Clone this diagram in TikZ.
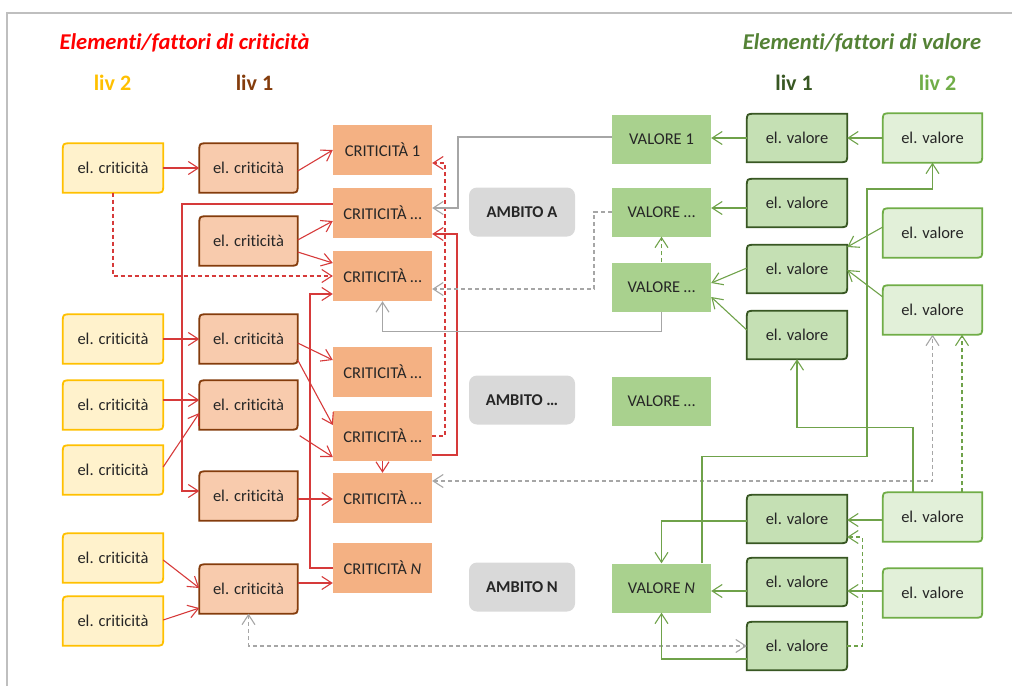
\documentclass[tikz,border=0pt]{standalone}
\usepackage{fontspec}
\setmainfont{Carlito}[Ligatures=NoCommon]
\usetikzlibrary{arrows.meta,backgrounds,calc}

\definecolor{yelfill}{HTML}{FFF2CC}
\definecolor{yelline}{HTML}{FFC000}
\definecolor{brnfill}{HTML}{F8CBAD}
\definecolor{brnline}{HTML}{843C0C}
\definecolor{critfill}{HTML}{F4B183}
\definecolor{ambfill}{HTML}{D9D9D9}
\definecolor{valfill}{HTML}{A9D18E}
\definecolor{dgrfill}{HTML}{C5E0B4}
\definecolor{dgrline}{HTML}{385723}
\definecolor{lgrfill}{HTML}{E2F0D9}
\definecolor{lgrline}{HTML}{70AD47}
\definecolor{redline}{HTML}{D63A3A}
\definecolor{grayline}{HTML}{A6A6A6}
\definecolor{greenline}{HTML}{6FA24A}
\definecolor{titlegreen}{HTML}{548235}
\definecolor{textdark}{HTML}{262626}
\definecolor{framecol}{HTML}{BFBFBF}

% outline with rounded top-left and bottom-right corners, drawn behind the node
\newcommand\diagoutline[3]{%
  \begin{scope}[on background layer]
    \draw[fill=#2, draw=#3, line width=1.8pt]
      (#1.south west) -- ([yshift=-8pt]#1.north west)
      .. controls (#1.north west) .. ([xshift=8pt]#1.north west)
      -- (#1.north east) -- ([yshift=8pt]#1.south east)
      .. controls (#1.south east) .. ([xshift=-8pt]#1.south east)
      -- cycle;
  \end{scope}}
% element node: style, name, position, text
\newcommand\elnode[4]{%
  \node[#1] (#2) at (#3) {#4};
  \diagoutline{#2}{#1fill}{#1line}}

\begin{document}
\begin{tikzpicture}[x=1pt, y=-1pt,
  base/.style={inner sep=0pt, text=textdark, font=\fontsize{16.5}{19}\selectfont},
  yel/.style={base, minimum width=100pt, minimum height=49pt},
  brn/.style={base, minimum width=98pt, minimum height=49pt},
  dgr/.style={base, minimum width=100pt, minimum height=48pt},
  lgr/.style={base, minimum width=99pt, minimum height=49pt},
  crit/.style={base, fill=critfill, minimum width=99pt, minimum height=50pt},
  amb/.style={base, fill=ambfill, rounded corners=8pt, minimum width=106pt, minimum height=49pt, font=\fontsize{16.5}{19}\selectfont\bfseries},
  val/.style={base, fill=valfill, minimum width=99pt, minimum height=49pt},
  head/.style={inner sep=0pt, font=\fontsize{22}{26}\selectfont\bfseries},
  title/.style={inner sep=0pt, font=\fontsize{22.6}{27}\selectfont\bfseries\itshape},
  tip/.tip={Straight Barb[length=10pt, width=13pt]},
  arr/.style={-tip},
  darr/.style={tip-tip},
  redc/.style={draw=redline, line width=1.1pt},
  grayc/.style={draw=grayline, line width=1.1pt},
  greenc/.style={draw=greenline, line width=1.1pt},
  dsh/.style={dash pattern=on 4pt off 3pt},
]
\useasboundingbox (0,0) rectangle (1012,686);
\draw[framecol, line width=1.2pt] (7,686) -- (7,13) -- (1012,13);

% headings
\node[title, text=red] (tcrit) at (184.5,43) {Elementi/fattori di criticità};
\node[title, text=titlegreen] (tval) at (862,43) {Elementi/fattori di valore};
\node[head, text=yelline] (hc2) at (112.5,83) {liv 2};
\node[head, text=brnline] (hc1) at (254.5,83) {liv 1};
\node[head, text=dgrline] (hv1) at (794,83) {liv 1};
\node[head, text=lgrline] (hv2) at (937.5,83) {liv 2};

% criticality elements, level 2
\elnode{yel}{Y1}{113,168}{el. criticità}
\elnode{yel}{Y2}{113,339}{el. criticità}
\elnode{yel}{Y3}{113,405}{el. criticità}
\elnode{yel}{Y4}{113,470}{el. criticità}
\elnode{yel}{Y5}{113,558}{el. criticità}
\elnode{yel}{Y6}{113,621}{el. criticità}
% criticality elements, level 1
\elnode{brn}{B1}{248.5,168}{el. criticità}
\elnode{brn}{B2}{248.5,241}{el. criticità}
\elnode{brn}{B3}{248.5,339}{el. criticità}
\elnode{brn}{B4}{248.5,405}{el. criticità}
\elnode{brn}{B5}{248.5,496}{el. criticità}
\elnode{brn}{B6}{248.5,589}{el. criticità}
% criticalities
\node[crit] (C1) at (382.5,150) {CRITICITÀ 1};
\node[crit] (C2) at (382.5,213) {CRITICITÀ …};
\node[crit] (C3) at (382.5,276) {CRITICITÀ …};
\node[crit] (C4) at (382.5,372) {CRITICITÀ …};
\node[crit] (C5) at (382.5,436) {CRITICITÀ …};
\node[crit] (C6) at (382.5,498) {CRITICITÀ …};
\node[crit] (CN) at (382.5,568) {CRITICITÀ \textit{N}};
% scopes
\node[amb] (A1) at (522,212) {AMBITO A};
\node[amb] (A2) at (522,400) {AMBITO …};
\node[amb] (AN) at (522,587) {AMBITO N};
% values
\node[val] (V1) at (661.5,139) {VALORE 1};
\node[val] (V2) at (661.5,212) {VALORE …};
\node[val] (V3) at (661.5,287) {VALORE …};
\node[val] (V4) at (661.5,401) {VALORE …};
\node[val] (VN) at (661.5,588) {VALORE \textit{N}};
% value elements, level 1
\elnode{dgr}{D1}{797,138}{el. valore}
\elnode{dgr}{D2}{797,203}{el. valore}
\elnode{dgr}{D3}{797,269}{el. valore}
\elnode{dgr}{D4}{797,335}{el. valore}
\elnode{dgr}{D5}{797,519}{el. valore}
\elnode{dgr}{D6}{797,582}{el. valore}
\elnode{dgr}{D7}{797,646}{el. valore}
% value elements, level 2
\elnode{lgr}{L1}{932.5,138}{el. valore}
\elnode{lgr}{L2}{932.5,233}{el. valore}
\elnode{lgr}{L3}{932.5,310}{el. valore}
\elnode{lgr}{L4}{932.5,517}{el. valore}
\elnode{lgr}{L5}{932.5,593}{el. valore}

% red connectors
\draw[redc, arr] (Y1.east) -- (B1.west);
\draw[redc, arr] ([yshift=-3pt]B1.east) -- (C1.west);
\draw[redc, arr, dsh] (Y1.south) |- (C3.west);
\draw[redc, arr] ([yshift=9pt]C2.west) -| (182,491) -- ([yshift=5pt]B5.west);
\draw[redc, arr] ([yshift=1pt]B2.east) -- ([yshift=-8pt]C2.west);
\draw[redc, arr] ([yshift=-11pt]B2.east) -- ([yshift=13pt]C3.west);
\draw[redc, arr] (CN.west) -| (310,294) -- ([yshift=-18pt]C3.west);
\draw[redc, arr] ([yshift=-4pt]B3.east) -- ([yshift=12pt]C4.west);
\draw[redc, arr] ([yshift=-21pt]B3.east) -- ([yshift=11pt]C5.west);
\draw[redc, arr] (Y2.east) -- (B3.west);
\draw[redc, arr] ([yshift=5pt]Y3.east) -- ([yshift=5pt]B4.west);
\draw[redc, arr] ([yshift=3pt]Y4.east) -- ([yshift=-8pt]B4.west);
\draw[redc, arr] ([shift={(2pt,-6pt)}]B4.south east) -- ([yshift=-21pt]C5.west);
\draw[redc, arr] (C5.south) -- (C6.north);
\draw[redc, arr] ([yshift=-3pt]B5.east) -- ([yshift=-1pt]C6.west);
\draw[redc, arr] ([yshift=-2pt]Y5.east) -- ([yshift=1pt]B6.west);
\draw[redc, arr] ([yshift=1pt]Y6.east) -- ([yshift=-19pt]B6.west);
\draw[redc, arr] ([yshift=6pt]B6.east) -- ([yshift=-15pt]CN.west);
\draw[redc, arr, dsh] (C5.east) -| (445,163) -- ([yshift=-13pt]C1.east);
\draw[redc, arr] ([yshift=-19pt]C5.east) -| (457,234) -- ([yshift=-21pt]C2.east);

% gray connectors
\draw[grayc, arr] ([yshift=2pt]V1.west) -| (458,208) -- ([yshift=5pt]C2.east);
\draw[grayc, arr, dsh] (V2.west) -| (594,289) -- ([yshift=-13pt]C3.east);
\draw[grayc, arr] (V3.south) -- ++(0,19.5) -| (C3.south);
\draw[grayc, darr, dsh] ([yshift=17pt]C6.east) -| (L3.south);
\draw[grayc, darr, dsh] (B6.south) |- (D7.west);

% green connectors
\draw[greenc, arr] (L1.west) -- (D1.east);
\draw[greenc, arr] (D1.west) -- (D1.west -| V1.east);
\draw[greenc, arr] ([yshift=-5pt]D2.west) -- ([yshift=4pt]V2.east);
\draw[greenc, arr] ([yshift=6pt]L2.west) -- ([yshift=22pt]D3.east);
\draw[greenc, arr] ([yshift=13pt]L3.west) -- ([yshift=-1pt]D3.east);
\draw[greenc, arr] ([yshift=1pt]D3.west) -- ([yshift=4pt]V3.east);
\draw[greenc, arr] ([yshift=5pt]D4.west) -- ([yshift=-10pt]V3.east);
\draw[greenc, arr, dsh] (V3.north) -- (V2.south);
\draw[greenc, arr, dsh] ([xshift=29.5pt]L4.north) -- ([xshift=29.5pt]L3.south);
\draw[greenc, arr] ([xshift=-19.5pt]L4.north) -- ++(0,-65) -| (D4.south);
\draw[greenc, arr] ([xshift=40.5pt]VN.north) -- ++(0,-107) -| (867,189) -| (L1.south);
\draw[greenc, arr] ([yshift=-3pt]L4.west) -- ([yshift=-1pt]D5.east);
\draw[greenc, arr] ([yshift=2pt]L5.west) -- ([yshift=-9pt]D6.east);
\draw[greenc, arr] ([yshift=-9pt]D6.west) -- ([yshift=-3pt]VN.east);
\draw[greenc, arr] ([yshift=-2pt]D5.west) -| (VN.north);
\draw[greenc, arr] ([yshift=-13pt]D7.west) -| (VN.south);
\draw[greenc, arr, dsh] (D7.east) -- ++(15,0) |- ([yshift=-18pt]D5.east);
\end{tikzpicture}
\end{document}
